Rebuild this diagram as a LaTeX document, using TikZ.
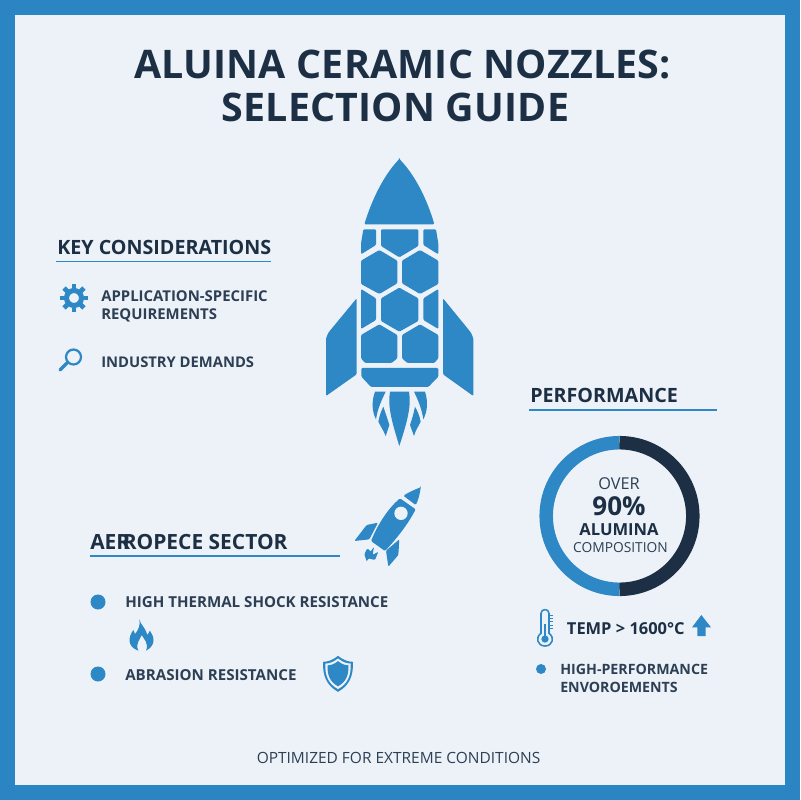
\documentclass[tikz,border=0pt]{standalone}
\usepackage{fontspec}
\setmainfont{Open Sans}
\newfontfamily\titlefont[LetterSpace=0.5]{Open Sans}
\usepackage{xcolor}
\definecolor{brandblue}{HTML}{2E88C5}
\definecolor{framecol}{HTML}{2A85C2}
\definecolor{paper}{HTML}{EDF2F8}
\definecolor{ink}{HTML}{1C2F44}
\definecolor{softink}{HTML}{2C3F54}
\tikzset{
    titletext/.style={inner sep=0pt, anchor=base, text=ink,
        font=\titlefont\bfseries\fontsize{28}{34}\selectfont},
    headtext/.style={inner sep=0pt, anchor=base west, text=ink,
        font=\bfseries\fontsize{14}{16}\selectfont},
    itemtext/.style={inner sep=0pt, anchor=base west, text=softink, align=left,
        font=\bfseries\fontsize{10.6}{12.8}\selectfont},
    headrule/.style={color=brandblue, line width=1.1pt},
    ringtext/.style={inner sep=0pt, anchor=base, text=softink},
    cell/.style={fill=brandblue, rounded corners=0.8pt}
}
\begin{document}
\begin{tikzpicture}[x=0.025cm, y=-0.025cm]
    \useasboundingbox (0, 0) rectangle (800, 800);
    \fill[framecol] (0, 0) rectangle (800, 800);
    \fill[paper] (15, 15) rectangle (785, 785);

    \node[titletext] (title1) at (402.5, 79) {ALUINA CERAMIC NOZZLES:};
    \node[titletext] (title2) at (395.5, 122) {SELECTION GUIDE};

    \begin{scope}[shift={(300, 140)}, scale=1/3]
        \fill[cell] (298, 57) .. controls (350, 110) and (385, 190) .. (403, 253)
            -- (193, 253) .. controls (212, 190) and (247, 110) .. (298, 57) -- cycle;
        \fill[cell] (190, 268) -- (228, 268) -- (228, 315) -- (183, 343) -- (183, 310) -- cycle;
        \fill[cell] (243, 268) -- (355, 268) -- (355, 318) -- (298, 352) -- (243, 318) -- cycle;
        \fill[cell] (370, 268) -- (408, 268) -- (415, 310) -- (415, 343) -- (370, 315) -- cycle;
        \fill[cell] (183, 362) -- (238, 330) -- (292, 362) -- (292, 430) -- (238, 462) -- (183, 432) -- cycle;
        \fill[cell] (306, 362) -- (360, 330) -- (415, 362) -- (415, 432) -- (360, 462) -- (306, 430) -- cycle;
        \fill[cell] (243, 475) -- (298, 443) -- (355, 475) -- (355, 543) -- (298, 575) -- (243, 543) -- cycle;
        \fill[cell] (183, 447) -- (228, 475) -- (228, 540) -- (183, 567) -- cycle;
        \fill[cell] (415, 447) -- (370, 475) -- (370, 540) -- (415, 567) -- cycle;
        \fill[cell] (183, 585) -- (238, 553) -- (292, 585) -- (292, 655) -- (275, 669) -- (195, 669) -- (183, 655) -- cycle;
        \fill[cell] (306, 585) -- (360, 553) -- (415, 585) -- (415, 655) -- (403, 669) -- (322, 669) -- (306, 655) -- cycle;
        \fill[cell] (184, 684) -- (415, 684) -- (415, 710) -- (385, 741) -- (213, 741) -- (184, 710) -- cycle;
        \fill[cell] (170, 475) -- (170, 703) -- (78, 768) -- (78, 595) -- (85, 578) -- cycle;
        \fill[cell] (429, 475) -- (429, 703) -- (520, 768) -- (520, 595) -- (513, 578) -- cycle;
        \fill[brandblue] (270, 755) -- (327, 755) .. controls (335, 800) and (320, 850) .. (298, 918)
            .. controls (277, 850) and (262, 800) .. (270, 755) -- cycle;
        \fill[brandblue] (225, 755) -- (257, 755) .. controls (245, 780) and (233, 805) .. (228, 838)
            .. controls (216, 815) and (214, 785) .. (225, 755) -- cycle;
        \fill[brandblue] (342, 755) -- (375, 755) .. controls (385, 785) and (382, 815) .. (370, 838)
            .. controls (365, 805) and (354, 780) .. (342, 755) -- cycle;
        \fill[brandblue] (250, 800) .. controls (258, 825) and (264, 840) .. (268, 855) -- (257, 888)
            .. controls (250, 870) and (242, 860) .. (235, 845) .. controls (238, 828) and (244, 812) .. (250, 800) -- cycle;
        \fill[brandblue] (345, 800) .. controls (352, 812) and (359, 828) .. (362, 845)
            .. controls (355, 860) and (347, 870) .. (342, 888) -- (330, 855) .. controls (335, 840) and (340, 825) .. (345, 800) -- cycle;
    \end{scope}

    \node[headtext] (keyhead) at (57, 254) {KEY CONSIDERATIONS};
    \draw[headrule] (56, 261.5) -- (271, 261.5);
    \draw[brandblue, line width=3.6pt] (74, 298) circle[radius=7.5];
    \foreach \a in {0, 45, ..., 315} {
        \draw[brandblue, line width=3.4pt] (74, 298) ++(\a:9.5) -- ++(\a:4.5);
    }
    \node[itemtext] (appitem) at (101, 319) {APPLICATION-SPECIFIC\\REQUIREMENTS};
    \draw[brandblue, line width=1.6pt] (73.5, 357) circle[radius=7.5];
    \draw[brandblue, line width=2.4pt, line cap=round] (67.5, 362.5) -- (60, 370);
    \node[itemtext, font=\bfseries\fontsize{10.5}{12.8}\selectfont] (industryitem) at (101, 367) {INDUSTRY DEMANDS};

    \node[headtext, font=\bfseries\fontsize{14.9}{16}\selectfont] (aerohead) at (90, 549) {AER\kern-0.36em ROPECE SECTOR};
    \draw[headrule] (90, 556) -- (340, 556);
    \begin{scope}[shift={(350, 480)}, scale=1/3]
        \fill[cell] (212, 22) .. controls (190, 30) and (175, 38) .. (160, 47) -- (197, 75)
            .. controls (205, 60) and (210, 40) .. (212, 22) -- cycle;
        \fill[cell] (150, 55) .. controls (115, 85) and (85, 130) .. (63, 183) -- (105, 213)
            .. controls (145, 170) and (175, 130) .. (197, 88) -- cycle;
        \fill[paper] (153, 100) circle[radius=20];
        \fill[cell] (84, 128) -- (50, 135) -- (13, 183) -- (58, 178) -- cycle;
        \fill[cell] (148, 178) -- (108, 212) -- (115, 260) -- (145, 225) -- cycle;
        \fill[cell] (52, 205) -- (62, 215) -- (72, 200) -- (68, 225) -- (85, 215) -- (75, 240)
            -- (55, 235) -- (50, 245) -- (43, 222) -- cycle;
    \end{scope}
    \fill[brandblue] (98, 602) circle[radius=7.5];
    \node[itemtext, font=\bfseries\fontsize{10.75}{12.8}\selectfont] (thermalitem) at (125, 607.5) {HIGH THERMAL SHOCK RESISTANCE};
    \begin{scope}[shift={(120, 610)}, scale=1/3]
        \fill[brandblue] (58, 28) .. controls (62, 45) and (75, 50) .. (82, 75)
            .. controls (88, 70) .. (90, 62) .. controls (102, 80) and (110, 105) .. (78, 122)
            .. controls (88, 100) and (70, 85) .. (65, 75) .. controls (60, 90) and (45, 100) .. (55, 122)
            .. controls (20, 110) and (25, 80) .. (40, 60) .. controls (42, 65) .. (45, 72)
            .. controls (55, 60) and (62, 45) .. (58, 28) -- cycle;
    \end{scope}
    \fill[brandblue] (98, 674) circle[radius=7.5];
    \node[itemtext, font=\bfseries\fontsize{10.75}{12.8}\selectfont] (abrasionitem) at (125, 680) {ABRASION RESISTANCE};
    \foreach \s/\c in {1/brandblue, 0.85/paper, 0.7/brandblue} {
        \begin{scope}[shift={(338, 673.5)}, scale=\s/3]
            \fill[\c] (0, -53) .. controls (16, -40) and (31, -35) .. (45, -35)
                .. controls (46, 5) and (36, 35) .. (0, 55)
                .. controls (-36, 35) and (-46, 5) .. (-45, -35)
                .. controls (-31, -35) and (-16, -40) .. (0, -53) -- cycle;
        \end{scope}
    }

    \node[headtext] (perfhead) at (530, 402.5) {PERFORMANCE};
    \draw[headrule] (529, 410) -- (717, 410);
    \draw[brandblue, line width=9.6pt] (619.5, 442.7) arc[start angle=270, end angle=90, radius=73.3];
    \draw[ink, line width=9.6pt] (619.5, 442.7) arc[start angle=270, end angle=450, radius=73.3];
    \node[ringtext, font=\fontsize{11.6}{14}\selectfont] (over) at (619, 489) {OVER};
    \node[ringtext, text=ink, font=\bfseries\fontsize{18.5}{22}\selectfont] (percent) at (619, 515.7) {90\%};
    \node[ringtext, text=ink, font=\bfseries\fontsize{11.8}{14}\selectfont] (alumina) at (619, 535.7) {ALUMINA};
    \node[ringtext, font=\fontsize{9.8}{12}\selectfont] (compo) at (620.5, 552) {COMPOSITION};

    \begin{scope}[shift={(530, 600)}, scale=1/3]
        \draw[brandblue, line width=1.1pt] (33, 40) .. controls (33, 25) and (57, 25) .. (57, 40) -- (57, 100)
            .. controls (75, 112) and (68, 138) .. (45, 138) .. controls (22, 138) and (15, 112) .. (33, 100) -- cycle;
        \fill[brandblue] (45, 117) circle[radius=11];
        \fill[brandblue] (41, 72) rectangle (49, 117);
        \foreach \t in {45, 55, 65, 75, 85} {
            \draw[brandblue, line width=0.7pt] (57, \t) -- (68, \t);
        }
        \fill[brandblue] (514, 45) -- (543, 82) -- (527, 82) -- (527, 108) -- (502, 108) -- (502, 82) -- (486, 82) -- cycle;
    \end{scope}
    \node[itemtext, text=ink, font=\bfseries\fontsize{11.7}{14}\selectfont] (tempitem) at (566.7, 634) {TEMP > 1600°C};
    \fill[brandblue] (541, 669) circle[radius=5];
    \node[itemtext, font=\bfseries\fontsize{10.1}{12.8}\selectfont] (highitem) at (560, 692) {HIGH-PERFORMANCE\\ENVOROEMENTS};

    \node[ringtext, font=\fontsize{11}{13}\selectfont] (footer) at (398.5, 763) {OPTIMIZED FOR EXTREME CONDITIONS};
\end{tikzpicture}
\end{document}
